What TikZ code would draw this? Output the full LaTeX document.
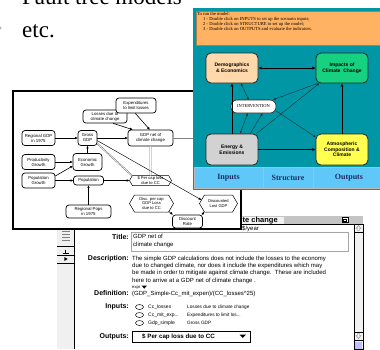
\documentclass[tikz,border=0pt]{standalone}
\usepackage{fontspec}
\setmainfont{Liberation Serif}
\setsansfont{Liberation Sans}
\usetikzlibrary{shapes.symbols,arrows.meta}

\definecolor{panelteal}{RGB}{0,150,166}
\definecolor{notebar}{RGB}{255,178,98}
\definecolor{demofill}{RGB}{255,216,172}
\definecolor{impactfill}{RGB}{22,210,128}
\definecolor{energyfill}{RGB}{210,210,210}
\definecolor{atmosfill}{RGB}{255,255,80}
\definecolor{tabfill}{RGB}{96,200,248}
\definecolor{tabink}{RGB}{28,44,100}
\definecolor{barfill}{RGB}{196,196,196}

\newcommand{\fsz}[2]{\fontsize{#1}{#2}\selectfont}

\tikzset{
  % influence diagram
  fbox/.style={draw, fill=white, rounded corners=3pt, line width=0.7pt,
    align=center, inner sep=0pt, font=\sffamily\fsz{4.3}{5}},
  fhex/.style={signal, signal to=west and east, signal pointer angle=120,
    draw, fill=white, line width=0.5pt, align=center, inner sep=0pt,
    font=\sffamily\fsz{4.1}{4.8}},
  fline/.style={-{Triangle[length=2.6pt,width=2.2pt]}, line width=0.6pt},
  % model overview panel
  tbox/.style={draw=black!85, line width=0.8pt, rounded corners=5pt,
    align=center, inner sep=0pt, minimum width=52pt, minimum height=30pt,
    font=\sffamily\bfseries\fsz{5}{5.6}},
  tthick/.style={line width=1pt, -{Triangle[length=3.2pt,width=2.8pt]}},
  tthin/.style={line width=0.35pt, draw=black!85, -{Triangle[length=2.4pt,width=2pt]}},
  note/.style={anchor=base west, inner sep=0pt, font=\fsz{4.6}{5}},
  tabcell/.style={draw=gray!55, line width=0.5pt, fill=tabfill},
  tablabel/.style={font=\bfseries\fsz{8}{8}, text=tabink, inner sep=0pt},
  % object window
  lbl/.style={anchor=base east, inner sep=0pt, font=\sffamily\bfseries\fsz{7}{8}},
  txt/.style={anchor=base west, inner sep=0pt, font=\sffamily\fsz{6}{7}},
  small/.style={anchor=base west, inner sep=0pt, font=\sffamily\fsz{5}{6}},
}

\begin{document}
\begin{tikzpicture}[x=1pt,y=-1pt]
\useasboundingbox[fill=white] (0,0) rectangle (380,349);

% ---- slide text ----
\node[anchor=base west, inner sep=0pt, font=\fsz{23}{23}] (fault) at (22,4) {Fault tree models};
\node[anchor=base west, inner sep=0pt, font=\fsz{23}{23}] (etc) at (22,37) {etc.};
\fill[gray!60] (0,28) circle (1.6pt);

% ---- object window (back) ----
\fill[white] (57,216) rectangle (363,349);
\fill[barfill] (57,216) rectangle (363,224);
\fill[white!90!gray] (241,216.5) rectangle (284,223.5);
\node[anchor=base west, inner sep=0pt,
  font=\sffamily\bfseries\fsz{7.5}{7.5}] (wtitle) at (242.5,222.2) {te change};
\draw[line width=0.4pt, fill=white] (342,217.5) rectangle (348,222.5);
\draw[line width=0.4pt, fill=white] (343.5,219) rectangle (346.5,221.5);
\draw[line width=0.5pt] (57,224) -- (363,224);
\draw[line width=0.8pt] (57,216) -- (57,349);

% side toolbar
\fill[gray!12] (57,224) rectangle (74,349);
\draw[line width=0.5pt] (74,224) -- (74,349);
\foreach \yy in {231,234,237,240} \draw[line width=0.5pt, gray] (62,\yy) -- (70,\yy);
\foreach \yy in {246,255,263} \draw[line width=0.4pt] (57,\yy) -- (74,\yy);
\draw[line width=0.5pt] (65.5,249.5) -- (65.5,253.3) (62.5,253.3) -- (68.5,253.3);
\fill (64.3,257) -- (67.6,259) -- (64.3,261) -- cycle;

% scroll bar
\draw[fill=gray!10, line width=0.5pt] (354,224) rectangle (363,349);
\draw[line width=0.4pt] (354,232) -- (363,232) (354,332) -- (363,332) (354,340.5) -- (363,340.5);
\draw[line width=0.4pt, gray] (358.5,225.5) -- (356,228.5) -- (357.5,228.5) -- (357.5,230.5)
  -- (359.5,230.5) -- (359.5,228.5) -- (361,228.5) -- cycle;
\draw[line width=0.4pt, gray] (358.5,338.5) -- (356,335.5) -- (357.5,335.5) -- (357.5,333.5)
  -- (359.5,333.5) -- (359.5,335.5) -- (361,335.5) -- cycle;
\fill[blue!25] (355,341.5) rectangle (362,349);

% object fields
\node[txt] (units) at (242,230.3) {\$/year};

\node[lbl] (ltitle) at (129,239.5) {Title:};
\draw[gray!70, line width=0.5pt] (131,232) rectangle (348,251);
\node[txt] (title1) at (133,238.5) {GDP net of};
\node[txt] (title2) at (133,246.5) {climate change};

\node[lbl] (ldesc) at (129,260.3) {Description:};
\node[txt] (d1) at (132,260.3) {The simple GDP calculations does not include the losses to the economy};
\node[txt] (d2) at (132,267.6) {due to changed climate, nor does it include the expenditures which may};
\node[txt] (d3) at (132,274.9) {be made in order to mitigate against climate change.\ \ These are included};
\node[txt] (d4) at (132,282.2) {here to arrive at a GDP net of climate change .};

\node[anchor=base west, inner sep=0pt, font=\sffamily\fsz{4.2}{5}] (expr) at (132,288.5) {expr};
\fill (141.5,285.6) -- (147,285.6) -- (144.25,288.6) -- cycle;

\node[lbl] (ldef) at (129,295.3) {Definition:};
\node[txt] (def) at (132,295.3) {(GDP\_Simple-Cc\_mit\_expen)/(CC\_losses\textasciicircum25)};

\node[lbl] (linp) at (129,308.8) {Inputs:};
\foreach \yy in {307,315,323} \draw[line width=0.5pt] (139.5,\yy) ellipse [x radius=4pt, y radius=2.5pt];
\node[small] (in1) at (148,308.7) {Cc\_losses};
\node[small] (in2) at (148,316.7) {Cc\_mit\_exp...};
\node[small] (in3) at (148,324.7) {Gdp\_simple};
\node[small, font=\sffamily\fsz{4.7}{6}] (in1d) at (187,308.7) {Losses due to climate change};
\node[small, font=\sffamily\fsz{4.7}{6}] (in2d) at (187,316.7) {Expenditures to limit los...};
\node[small, font=\sffamily\fsz{4.7}{6}] (in3d) at (187,324.7) {Gross GDP};

\node[lbl] (lout) at (129,338.5) {Outputs:};
\draw[line width=0.5pt, fill=white] (132,331) rectangle (250,342);
\draw[line width=1pt] (132.5,342.5) -- (250.5,342.5) -- (250.5,331.5);
\node[anchor=base west, inner sep=0pt, font=\sffamily\bfseries\fsz{6.2}{7}] (outsel) at (142,338.6) {\$ Per cap loss due to CC};
\fill (239.5,334.6) -- (246,334.6) -- (242.75,338) -- cycle;

% ---- influence diagram window ----
\draw[fill=white, line width=1.2pt] (13,91) rectangle (241,229);

\node[fbox, minimum width=33pt, minimum height=15pt] (rgdp) at (38.5,138) {Regional GDP\\in 1975};
\node[fbox, minimum width=19pt, minimum height=15pt] (ggdp) at (87.5,138) {Gross\\GDP};
\node[fbox, minimum width=44pt, minimum height=13pt] (loss) at (105,116.5) {Losses due to\\climate change};
\node[fbox, minimum width=40pt, minimum height=15pt] (expend) at (136,105.5) {Expenditures\\to limit losses};
\node[fbox, minimum width=45pt, minimum height=16pt] (gnet) at (150.5,138) {GDP net of\\climate change};
\node[fbox, minimum width=33pt, minimum height=15pt] (prod) at (38.5,162) {Productivity\\Growth};
\node[fbox, minimum width=29pt, minimum height=17pt] (econ) at (87.5,162) {Economic\\Growth};
\node[fbox, minimum width=33pt, minimum height=15pt] (popg) at (38.5,180.5) {Population\\Growth};
\node[fbox, minimum width=30pt, minimum height=9pt] (pop) at (88.5,180.5) {Population};
\node[fbox, minimum width=45pt, minimum height=13pt] (rpop) at (88.5,211.5) {Regional Pops\\in 1975};
\node[fhex, minimum width=42pt, minimum height=10pt] (percap) at (150.5,180.5) {\$ Per cap loss\\due to CC};
\node[fhex, minimum width=44pt, minimum height=17pt] (disc) at (151.5,203.5) {Disc. per cap\\GDP Loss\\due to CC};
\node[fhex, minimum width=38pt, minimum height=17pt] (dlost) at (218.5,203.5) {Discounted\\Lost GDP};
\node[fbox, minimum width=30pt, minimum height=13pt] (drate) at (187.5,221.5) {Discount\\Rate};
\coordinate (gout) at (205,138);

\draw[fline] (rgdp) -- (ggdp);
\draw[fline] (ggdp) -- (gnet);
\draw[fline] (prod) -- (econ);
\draw[fline] (popg.15) -- (econ.195);
\draw[fline] (popg) -- (pop);
\draw[fline] (econ) -- (ggdp);
\draw[fline] (rpop) -- (pop);
\draw[fline] (pop) -- (percap);
\draw[fline] (loss.-40) -- (gnet.155);
\draw[fline] (expend.-95) -- (gnet.95);
\draw[line width=0.5pt, gray, double=white, double distance=0.7pt] (gnet) -- (percap);
\draw[line width=0.4pt, gray!70!black, double=white, double distance=0.6pt] (ggdp.-30) -- (percap.165);
\draw[fline, line width=0.45pt] (ggdp.-15) -- (dlost.168);
\draw[fline] (disc.-25) -- (drate.155);
\draw[fline] (drate.25) -- (dlost.-150);
\draw[line width=0.5pt, gray] (gnet) -- (gout);

% ---- model overview panel (front) ----
\fill[panelteal] (193,8) rectangle (380,190);
\draw[fill=notebar, draw=notebar!70!black, line width=0.3pt] (196,11) rectangle (381,45);
\node[note] (n0) at (197,15.5) {To run the model:};
\node[note] (n1) at (203,20.5) {1 - Double click on INPUTS to set up the scenario inputs;};
\node[note] (n2) at (203,25.5) {2 - Double click on STRUCTURE to set up the model;};
\node[note] (n3) at (203,30.5) {3 - Double click on OUTPUTS and evaluate the indicators.};

\node[tbox, fill=demofill] (demo) at (232,68) {Demographics\\\& Economics};
\node[tbox, fill=impactfill] (impacts) at (342,68) {Impacts of\\Climate\ \ Change};
\node[draw=black!85, fill=white, line width=0.6pt, rounded corners=6pt, inner sep=0pt,
  minimum width=45pt, minimum height=13pt, font=\fsz{4.5}{5}] (interv) at (253.5,106.5) {INTERVENTION};
\node[tbox, fill=energyfill, minimum height=31pt] (energy) at (232,149.5) {Energy \&\\Emissions};
\node[tbox, fill=atmosfill, minimum height=31pt] (atmos) at (342,149.5) {Atmospheric\\Composition \&\\Climate};

\draw[tthick, {Triangle[length=3.2pt,width=2.8pt]}-{Triangle[length=3.2pt,width=2.8pt]}] (demo) -- (impacts);
\draw[tthick] (energy) -- (demo);
\draw[tthick] (atmos) -- (impacts);
\draw[tthick] (energy) -- (atmos);
\draw[tthin, {Triangle[length=2.4pt,width=2pt]}-{Triangle[length=2.4pt,width=2pt]}] (demo.-60) -- (interv.125);
\draw[tthin] (impacts.212) -- (interv.19);
\draw[tthin, {Triangle[length=2.4pt,width=2pt]}-{Triangle[length=2.4pt,width=2pt]}] (interv.230) -- (energy.63);
\draw[tthin] (energy.41) -- (interv.-37);
\draw[tthin] (energy.33) -- (impacts.214);
\draw[tthin] (interv.-11) -- (atmos.155);

\draw[tabcell] (194,167) rectangle (263,188);
\draw[tabcell] (263,167) rectangle (313,188);
\draw[tabcell] (313,167) rectangle (381,188);
\node[tablabel] (tin) at (228.5,178) {Inputs};
\node[tablabel] (tst) at (288,178) {Structure};
\node[tablabel] (tout) at (349,178) {Outputs};
\end{tikzpicture}
\end{document}
